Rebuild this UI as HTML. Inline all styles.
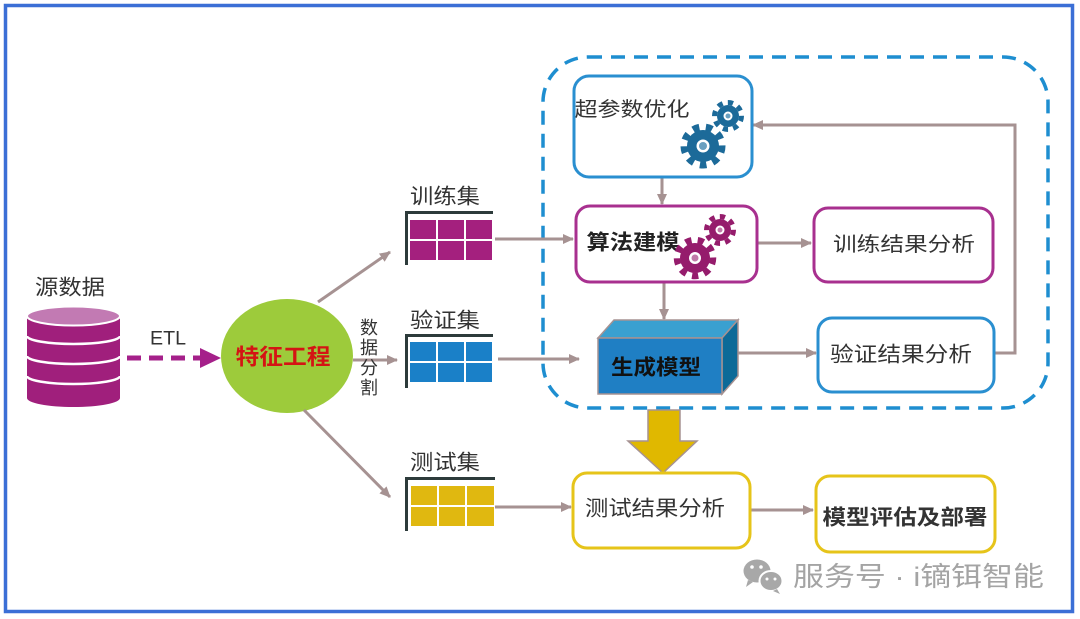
<!DOCTYPE html>
<html><head><meta charset="utf-8"><style>
html,body{margin:0;padding:0;background:#fff;}
svg{display:block;}
text{font-family:"Liberation Sans","Noto Sans CJK SC",sans-serif;}
</style></head><body>
<svg width="1080" height="619" viewBox="0 0 1080 619" xmlns="http://www.w3.org/2000/svg">
<defs>
<marker id="ah" markerWidth="12" markerHeight="12" refX="10" refY="5" orient="auto" markerUnits="userSpaceOnUse">
<path d="M0,0 L11,5 L0,10 Z" fill="#a69292"/>
</marker>
</defs>
<rect x="0" y="0" width="1080" height="619" fill="#fff"/>
<!-- outer frame -->
<rect x="5.5" y="5.5" width="1067" height="606" fill="none" stroke="#3b6fd6" stroke-width="3.5"/>

<!-- dashed group -->
<rect x="543" y="57" width="505" height="351" rx="45" fill="none" stroke="#1e8ed0" stroke-width="3.5" stroke-dasharray="14 9"/>

<!-- cylinder -->
<g>
<path d="M27,316 L27,398 A46.5,9 0 0 0 120,398 L120,316 Z" fill="#a01f7c"/>
<path d="M27,336 A46.5,8 0 0 0 120,336" fill="none" stroke="#fff" stroke-width="2.5"/>
<path d="M27,356 A46.5,8 0 0 0 120,356" fill="none" stroke="#fff" stroke-width="2.5"/>
<path d="M27,376 A46.5,8 0 0 0 120,376" fill="none" stroke="#fff" stroke-width="2.5"/>
<ellipse cx="73.5" cy="316" rx="46.5" ry="9.5" fill="#c27ab3" stroke="#fff" stroke-width="2"/>
</g>
<text x="70" y="288" font-size="21" fill="#333" text-anchor="middle" dominant-baseline="central" textLength="70" lengthAdjust="spacingAndGlyphs">源数据</text>

<!-- ETL -->
<line x1="127" y1="358" x2="205" y2="358" stroke="#a5208a" stroke-width="5" stroke-dasharray="14 8"/>
<path d="M200,348 L221,358 L200,368 Z" fill="#a5208a"/>
<text x="168" y="339" font-size="19" fill="#333" text-anchor="middle" dominant-baseline="central" textLength="36" lengthAdjust="spacingAndGlyphs">ETL</text>

<!-- feature circle -->
<ellipse cx="287" cy="356" rx="66" ry="57" fill="#9dcb3b"/>
<text x="283" y="357" font-size="22" font-weight="bold" fill="#d41414" text-anchor="middle" dominant-baseline="central" textLength="95" lengthAdjust="spacingAndGlyphs">特征工程</text>

<!-- split arrows -->
<g stroke="#a69292" stroke-width="3" fill="none" marker-end="url(#ah)">
<line x1="318" y1="302" x2="390" y2="252"/>
<line x1="353" y1="360" x2="397" y2="360"/>
<line x1="304" y1="410" x2="390" y2="497"/>
<line x1="495" y1="239" x2="573" y2="239"/>
<line x1="498" y1="359" x2="579" y2="359"/>
<line x1="495" y1="507" x2="571" y2="507"/>
<line x1="662" y1="177" x2="662" y2="204"/>
<line x1="664" y1="282" x2="664" y2="319"/>
<line x1="757" y1="243" x2="811" y2="243"/>
<line x1="722" y1="353" x2="816" y2="353"/>
<polyline points="993,353 1015,353 1015,125 753,125"/>
<line x1="750" y1="510" x2="813" y2="510"/>
</g>

<!-- 数据分割 vertical -->
<g font-size="18" fill="#333" text-anchor="middle" dominant-baseline="central">
<text x="369" y="328">数</text>
<text x="369" y="348">据</text>
<text x="369" y="368">分</text>
<text x="369" y="388">割</text>
</g>

<!-- tables -->
<g>
<text x="445" y="197" font-size="21" fill="#333" text-anchor="middle" dominant-baseline="central" textLength="70" lengthAdjust="spacingAndGlyphs">训练集</text>
<rect x="405" y="211" width="88" height="3" fill="#2d3b3b"/>
<rect x="405" y="211" width="3" height="54" fill="#2d3b3b"/>
<g fill="#a4207e">
<rect x="410" y="220" width="26" height="19"/><rect x="438" y="220" width="26" height="19"/><rect x="466" y="220" width="26" height="19"/>
<rect x="410" y="241" width="26" height="19"/><rect x="438" y="241" width="26" height="19"/><rect x="466" y="241" width="26" height="19"/>
</g>
<text x="445" y="321" font-size="21" fill="#333" text-anchor="middle" dominant-baseline="central" textLength="70" lengthAdjust="spacingAndGlyphs">验证集</text>
<rect x="405" y="334" width="88" height="3" fill="#2d3b3b"/>
<rect x="405" y="334" width="3" height="54" fill="#2d3b3b"/>
<g fill="#1a80c8">
<rect x="410" y="342" width="26" height="19"/><rect x="438" y="342" width="26" height="19"/><rect x="466" y="342" width="26" height="19"/>
<rect x="410" y="363" width="26" height="19"/><rect x="438" y="363" width="26" height="19"/><rect x="466" y="363" width="26" height="19"/>
</g>
<text x="445" y="463" font-size="21" fill="#333" text-anchor="middle" dominant-baseline="central" textLength="70" lengthAdjust="spacingAndGlyphs">测试集</text>
<rect x="405" y="477" width="90" height="3" fill="#2d3b3b"/>
<rect x="405" y="477" width="3" height="54" fill="#2d3b3b"/>
<g fill="#e0b810">
<rect x="411" y="486" width="26" height="19"/><rect x="439" y="486" width="26" height="19"/><rect x="467" y="486" width="27" height="19"/>
<rect x="411" y="507" width="26" height="19"/><rect x="439" y="507" width="26" height="19"/><rect x="467" y="507" width="27" height="19"/>
</g>
</g>

<!-- 超参数优化 -->
<rect x="574" y="76" width="178" height="101" rx="15" fill="#fff" stroke="#2a8fd0" stroke-width="3"/>
<text x="632" y="110" font-size="20" fill="#333" text-anchor="middle" dominant-baseline="central" textLength="115" lengthAdjust="spacingAndGlyphs">超参数优化</text>
<g>
<circle cx="728" cy="116" r="11" fill="#1c6a99"/>
<circle cx="728" cy="116" r="13.5" fill="none" stroke="#1c6a99" stroke-width="5" pathLength="16" stroke-dasharray="1 1"/>
<circle cx="728" cy="116" r="4.5" fill="#fff"/>
<circle cx="728" cy="116" r="2.5" fill="#6aa0c0"/>
<circle cx="703" cy="146" r="16" fill="#1c6a99"/>
<circle cx="703" cy="146" r="19" fill="none" stroke="#1c6a99" stroke-width="7" pathLength="18" stroke-dasharray="1 1"/>
<circle cx="703" cy="146" r="6.5" fill="#fff"/>
<circle cx="703" cy="146" r="4" fill="#6aa0c0"/>
</g>

<!-- 算法建模 -->
<rect x="576" y="206" width="181" height="76" rx="14" fill="#fff" stroke="#a8308f" stroke-width="3"/>
<text x="633" y="243" font-size="21" font-weight="bold" fill="#222" text-anchor="middle" dominant-baseline="central" textLength="93" lengthAdjust="spacingAndGlyphs">算法建模</text>
<g>
<circle cx="720" cy="230" r="11" fill="#951c6c"/>
<circle cx="720" cy="230" r="13.5" fill="none" stroke="#951c6c" stroke-width="5" pathLength="16" stroke-dasharray="1 1"/>
<circle cx="720" cy="230" r="4.5" fill="#fff"/>
<circle cx="720" cy="230" r="2.5" fill="#c07aa8"/>
<circle cx="695" cy="258" r="15" fill="#951c6c"/>
<circle cx="695" cy="258" r="18" fill="none" stroke="#951c6c" stroke-width="6.5" pathLength="18" stroke-dasharray="1 1"/>
<circle cx="695" cy="258" r="6" fill="#fff"/>
<circle cx="695" cy="258" r="3.5" fill="#c07aa8"/>
</g>

<!-- 训练结果分析 -->
<rect x="814" y="208" width="179" height="74" rx="14" fill="#fff" stroke="#a8308f" stroke-width="3"/>
<text x="904" y="245" font-size="20" fill="#333" text-anchor="middle" dominant-baseline="central" textLength="142" lengthAdjust="spacingAndGlyphs">训练结果分析</text>

<!-- 生成模型 3D box -->
<polygon points="598,338 614,320 738,320 722,338" fill="#3aa0d0" stroke="#a69292" stroke-width="1.5"/>
<polygon points="722,338 738,320 738,376 722,394" fill="#0d6a98" stroke="#a69292" stroke-width="1.5"/>
<rect x="598" y="338" width="124" height="56" fill="#1f7fc4" stroke="#a69292" stroke-width="1.5"/>
<text x="656" y="368" font-size="21" font-weight="bold" fill="#111" text-anchor="middle" dominant-baseline="central" textLength="90" lengthAdjust="spacingAndGlyphs">生成模型</text>

<!-- 验证结果分析 -->
<rect x="818" y="318" width="176" height="74" rx="14" fill="#fff" stroke="#2a8fd0" stroke-width="3"/>
<text x="901" y="355" font-size="21" fill="#333" text-anchor="middle" dominant-baseline="central" textLength="142" lengthAdjust="spacingAndGlyphs">验证结果分析</text>

<!-- big yellow arrow -->
<path d="M648,410 L680,410 L680,441 L697,441 L663,473 L628,441 L648,441 Z" fill="#e0b800" stroke="#a69292" stroke-width="1.5"/>

<!-- 测试结果分析 -->
<rect x="573" y="473" width="177" height="75" rx="14" fill="#fff" stroke="#e6c41a" stroke-width="3"/>
<text x="655" y="509" font-size="21" fill="#333" text-anchor="middle" dominant-baseline="central" textLength="140" lengthAdjust="spacingAndGlyphs">测试结果分析</text>

<!-- 模型评估及部署 -->
<rect x="816" y="476" width="179" height="76" rx="14" fill="#fff" stroke="#e6c41a" stroke-width="3"/>
<text x="905" y="518" font-size="21" font-weight="bold" fill="#333" text-anchor="middle" dominant-baseline="central" textLength="165" lengthAdjust="spacingAndGlyphs">模型评估及部署</text>

<!-- watermark -->
<g>
<ellipse cx="757" cy="571" rx="13.5" ry="11.5" fill="#a8a8a8"/>
<path d="M748,580 L746,587 L753,582 Z" fill="#a8a8a8"/>
<ellipse cx="771" cy="581" rx="11.5" ry="10" fill="#a8a8a8" stroke="#fff" stroke-width="2"/>
<path d="M777,589 L780,594 L773,591 Z" fill="#a8a8a8"/>
<circle cx="752" cy="567" r="1.8" fill="#fff"/>
<circle cx="761" cy="567" r="1.8" fill="#fff"/>
<circle cx="767" cy="579" r="1.5" fill="#fff"/>
<circle cx="775" cy="579" r="1.5" fill="#fff"/>
</g>
<text x="793" y="577" font-size="27" fill="#a4a4a4" dominant-baseline="central" textLength="251" lengthAdjust="spacingAndGlyphs">服务号 · i镝铒智能</text>
</svg>
</body></html>
